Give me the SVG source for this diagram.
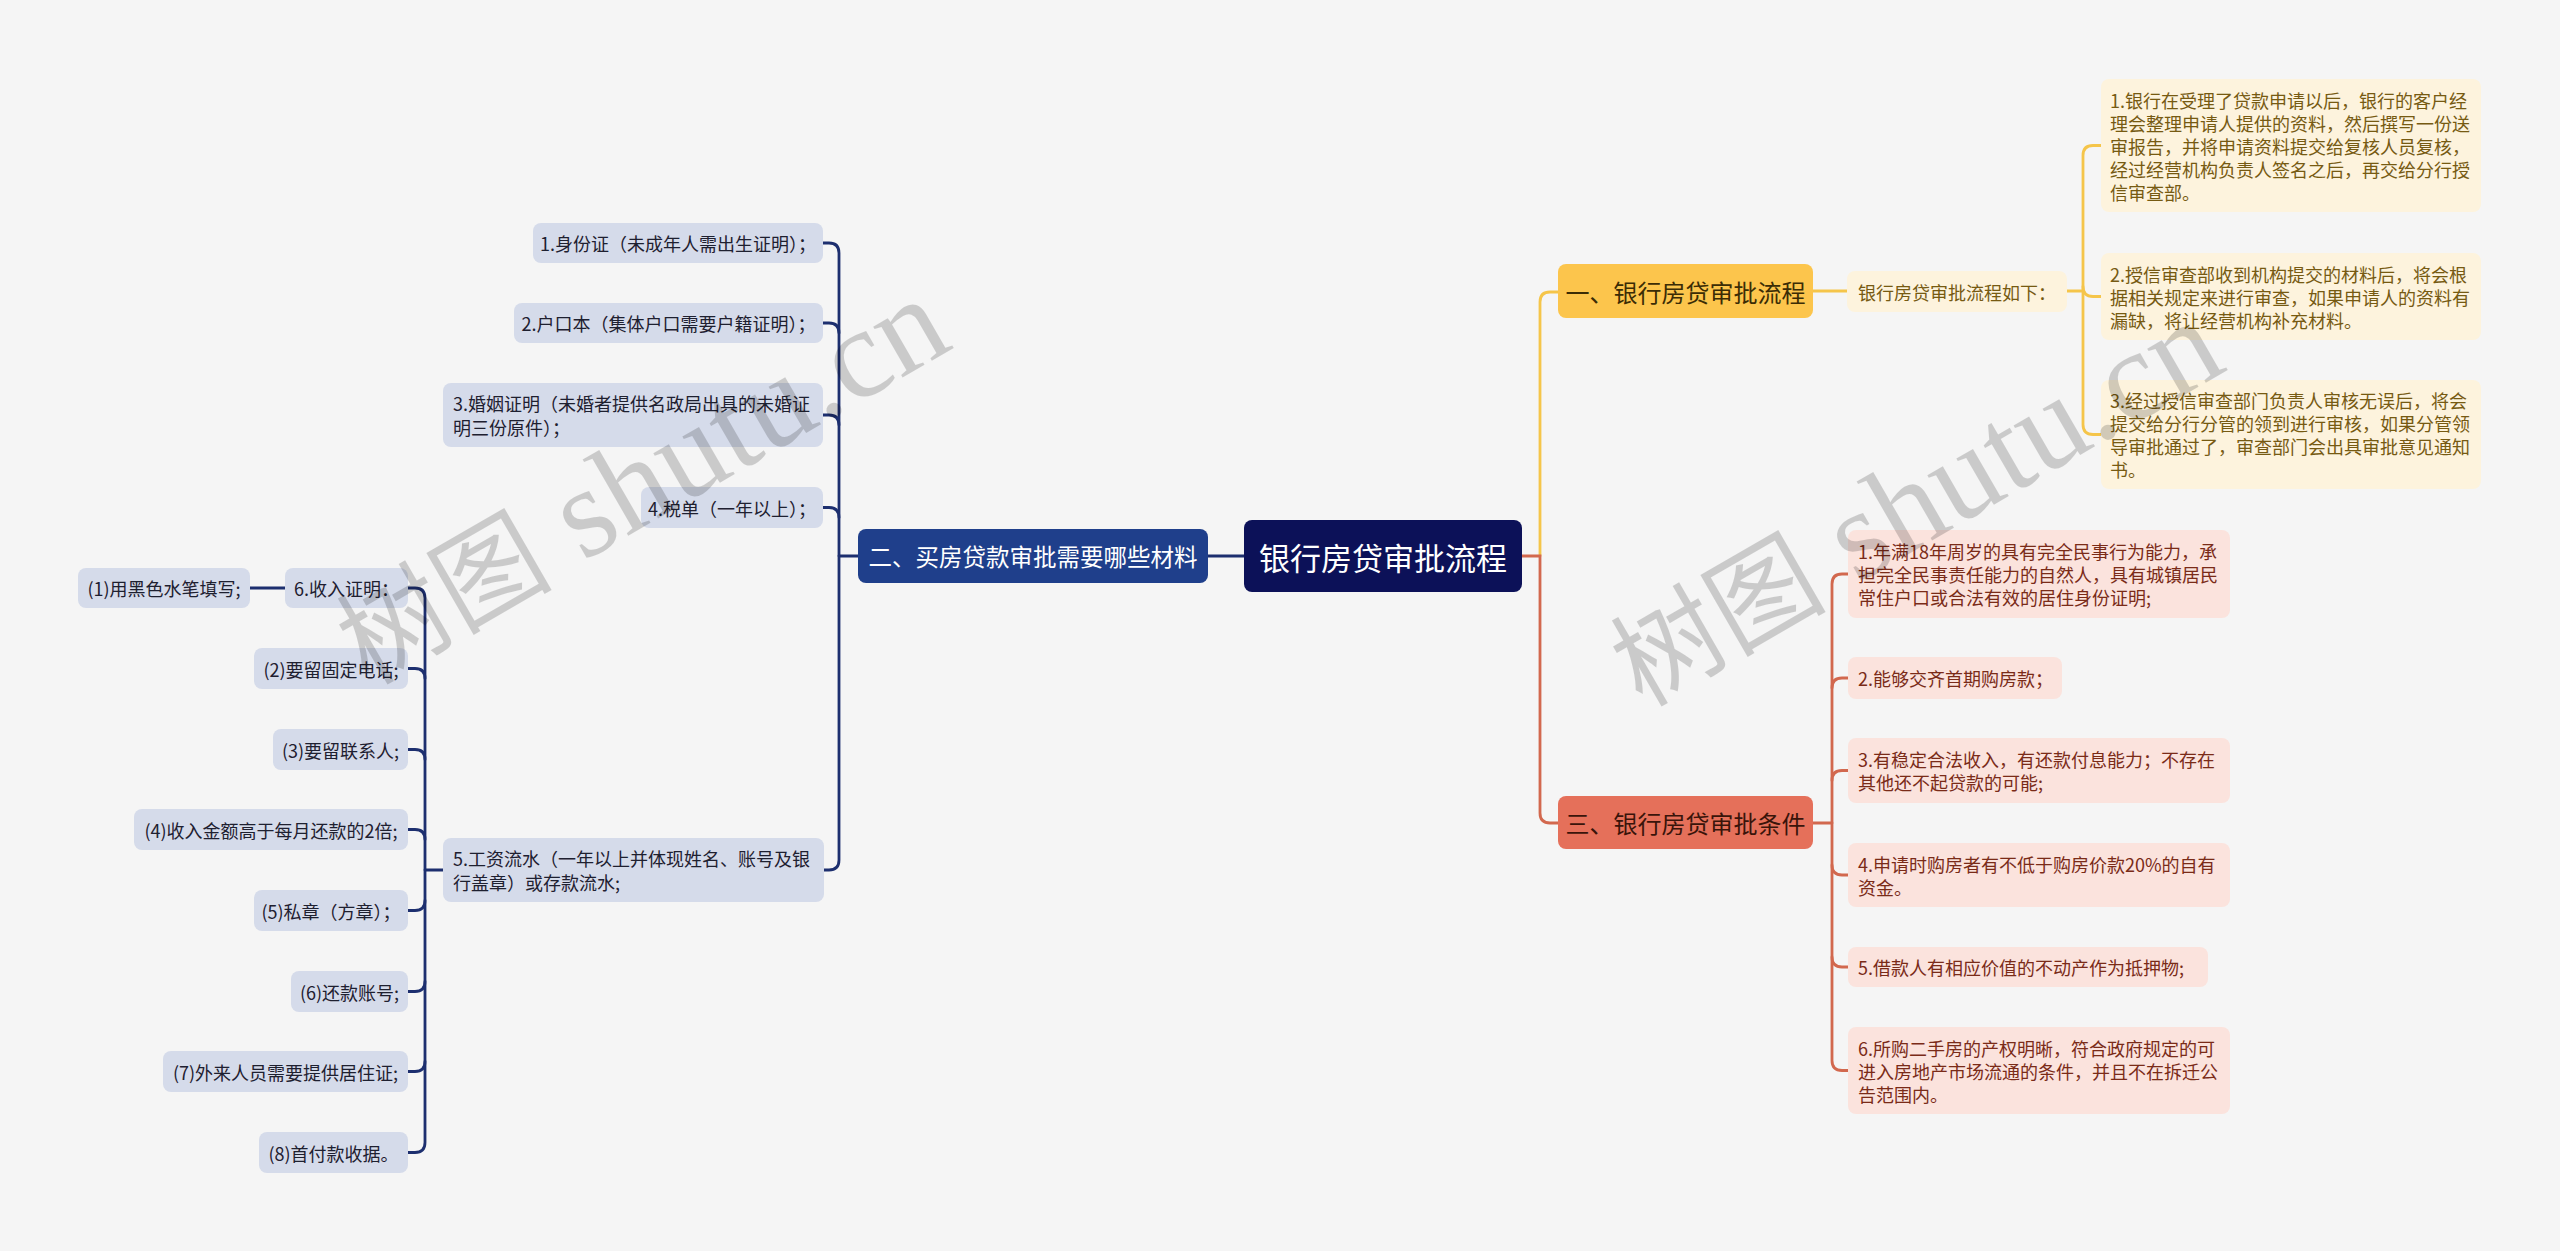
<svg xmlns="http://www.w3.org/2000/svg" width="2560" height="1251" viewBox="0 0 2560 1251">
<style>
.t{font-family:"Noto Sans CJK SC","Noto Sans",sans-serif;dominant-baseline:central}
.c{text-anchor:middle}
.root rect{fill:#0c1158}
.root text{fill:#ffffff;font-size:31px}
.b2 rect{fill:#1f3f8b}
.b2 text{fill:#ffffff;font-size:23.5px}
.lb rect{fill:#d5dbea}
.lb text{fill:#1e2030;font-size:18px}
.yb1 rect{fill:#fcc54c}
.yb1 text{fill:#3b2c05;font-size:24px}
.yb rect{fill:#fdf3dd}
.yb text{fill:#765a12;font-size:18px}
.rb1 rect{fill:#e5705a}
.rb1 text{fill:#3a140a;font-size:24px}
.rb rect{fill:#fbe3dd}
.rb text{fill:#7a2b18;font-size:18px}
.cn path{fill:none;stroke-width:2.8;stroke-linecap:round}
.navy{stroke:#1d2f6f}
.yel{stroke:#f5c54a}
.red{stroke:#d2684e}
.wm{font-family:"Liberation Serif","Noto Sans CJK SC",serif;fill:#000;opacity:0.17}
</style>
<rect width="2560" height="1251" fill="#f5f5f5"/>

<g id="connectors" class="cn">
  <path class="navy" d="M1244,556 H1208"/>
  <path class="navy" d="M858,556 H839"/>
  <path class="navy" d="M823,243 H829 Q839,243 839,253 V860 Q839,870 829,870 H823"/>
  <path class="navy" d="M823,323 H829 Q839,323 839,333"/>
  <path class="navy" d="M823,415 H829 Q839,415 839,425"/>
  <path class="navy" d="M823,507.5 H829 Q839,507.5 839,517.5"/>
  <path class="navy" d="M443,870 H425"/>
  <path class="navy" d="M408,588 H415 Q425,588 425,598 V1142.5 Q425,1152.5 415,1152.5 H408"/>
  <path class="navy" d="M408,668.5 H415 Q425,668.5 425,678.5"/>
  <path class="navy" d="M408,749.5 H415 Q425,749.5 425,759.5"/>
  <path class="navy" d="M408,829.5 H415 Q425,829.5 425,839.5"/>
  <path class="navy" d="M408,910.5 H415 Q425,910.5 425,900.5"/>
  <path class="navy" d="M408,991.5 H415 Q425,991.5 425,981.5"/>
  <path class="navy" d="M408,1071.5 H415 Q425,1071.5 425,1061.5"/>
  <path class="navy" d="M285,588 H250"/>
  <path class="yel" d="M1540,556 V302 Q1540,292 1550,292 H1558"/>
  <path class="yel" d="M1813,291 H1847"/>
  <path class="yel" d="M2067,291 H2083"/>
  <path class="yel" d="M2101,145.5 H2093 Q2083,145.5 2083,155.5 V424.5 Q2083,434.5 2093,434.5 H2101"/>
  <path class="yel" d="M2083,286.5 Q2083,296.5 2093,296.5 H2101"/>
  <path class="red" d="M1522,556 H1540 V813 Q1540,823 1550,823 H1558"/>
  <path class="red" d="M1813,823 H1832"/>
  <path class="red" d="M1848,574 H1842 Q1832,574 1832,584 V1060.5 Q1832,1070.5 1842,1070.5 H1848"/>
  <path class="red" d="M1848,678 H1842 Q1832,678 1832,688"/>
  <path class="red" d="M1848,770.5 H1842 Q1832,770.5 1832,780.5"/>
  <path class="red" d="M1848,875 H1842 Q1832,875 1832,865"/>
  <path class="red" d="M1848,967 H1842 Q1832,967 1832,957"/>
</g>

<g id="root" class="root"><rect x="1244" y="520" width="278" height="72" rx="8"/><text class="t c" x="1383" y="556">银行房贷审批流程</text></g>

<g id="b2" class="b2"><rect x="858" y="529" width="350" height="54" rx="8"/><text class="t c" x="1033" y="556">二、买房贷款审批需要哪些材料</text></g>

<g id="L1" class="lb"><rect x="533" y="223" width="290" height="40" rx="8"/><text class="t c" x="678" y="243">1.身份证（未成年人需出生证明）；</text></g>
<g id="L2" class="lb"><rect x="514" y="303" width="309" height="40" rx="8"/><text class="t c" x="668.5" y="323">2.户口本（集体户口需要户籍证明）；</text></g>
<g id="L3" class="lb"><rect x="443" y="383" width="380" height="64" rx="8"/><text class="t" x="453" y="403">3.婚姻证明（未婚者提供名政局出具的未婚证</text><text class="t" x="453" y="427">明三份原件）；</text></g>
<g id="L4" class="lb"><rect x="641" y="487" width="182" height="41" rx="8"/><text class="t c" x="732" y="507.5">4.税单（一年以上）；</text></g>
<g id="L5" class="lb"><rect x="443" y="838" width="381" height="64" rx="8"/><text class="t" x="453" y="858">5.工资流水（一年以上并体现姓名、账号及银</text><text class="t" x="453" y="882">行盖章）或存款流水;</text></g>

<g id="S6" class="lb"><rect x="285" y="568" width="123" height="40" rx="8"/><text class="t c" x="346.5" y="588">6.收入证明：</text></g>
<g id="S1" class="lb"><rect x="78" y="568" width="172" height="40" rx="8"/><text class="t c" x="164" y="588">(1)用黑色水笔填写;</text></g>
<g id="S2" class="lb"><rect x="254" y="648" width="154" height="41" rx="8"/><text class="t c" x="331" y="668.5">(2)要留固定电话;</text></g>
<g id="S3" class="lb"><rect x="273" y="729" width="135" height="41" rx="8"/><text class="t c" x="340.5" y="749.5">(3)要留联系人;</text></g>
<g id="S4" class="lb"><rect x="134" y="809" width="274" height="41" rx="8"/><text class="t c" x="271" y="829.5">(4)收入金额高于每月还款的2倍;</text></g>
<g id="S5" class="lb"><rect x="254" y="890" width="154" height="41" rx="8"/><text class="t c" x="331" y="910.5">(5)私章（方章）；</text></g>
<g id="S6b" class="lb"><rect x="291" y="971" width="117" height="41" rx="8"/><text class="t c" x="349.5" y="991.5">(6)还款账号;</text></g>
<g id="S7" class="lb"><rect x="163" y="1051" width="245" height="41" rx="8"/><text class="t c" x="285.5" y="1071.5">(7)外来人员需要提供居住证;</text></g>
<g id="S8" class="lb"><rect x="259" y="1132" width="149" height="41" rx="8"/><text class="t c" x="333.5" y="1152.5">(8)首付款收据。</text></g>

<g id="Y1" class="yb1"><rect x="1558" y="264" width="255" height="54" rx="8"/><text class="t c" x="1685.5" y="291">一、银行房贷审批流程</text></g>
<g id="Y2" class="yb"><rect x="1847" y="271" width="220" height="41" rx="8"/><text class="t c" x="1957" y="291.5">银行房贷审批流程如下：</text></g>
<g id="C1" class="yb"><rect x="2101" y="79" width="380" height="133" rx="8"/>
<text class="t" x="2110" y="99.5">1.银行在受理了贷款申请以后，银行的客户经</text>
<text class="t" x="2110" y="122.5">理会整理申请人提供的资料，然后撰写一份送</text>
<text class="t" x="2110" y="145.5">审报告，并将申请资料提交给复核人员复核，</text>
<text class="t" x="2110" y="168.5">经过经营机构负责人签名之后，再交给分行授</text>
<text class="t" x="2110" y="191.5">信审查部。</text></g>
<g id="C2" class="yb"><rect x="2101" y="253" width="380" height="87" rx="8"/>
<text class="t" x="2110" y="273.5">2.授信审查部收到机构提交的材料后，将会根</text>
<text class="t" x="2110" y="296.5">据相关规定来进行审查，如果申请人的资料有</text>
<text class="t" x="2110" y="319.5">漏缺，将让经营机构补充材料。</text></g>
<g id="C3" class="yb"><rect x="2101" y="380" width="380" height="109" rx="8"/>
<text class="t" x="2110" y="400">3.经过授信审查部门负责人审核无误后，将会</text>
<text class="t" x="2110" y="423">提交给分行分管的领到进行审核，如果分管领</text>
<text class="t" x="2110" y="446">导审批通过了，审查部门会出具审批意见通知</text>
<text class="t" x="2110" y="469">书。</text></g>

<g id="R0" class="rb1"><rect x="1558" y="796" width="255" height="53" rx="8"/><text class="t c" x="1685.5" y="822.5">三、银行房贷审批条件</text></g>
<g id="R1" class="rb"><rect x="1848" y="530" width="382" height="88" rx="8"/>
<text class="t" x="1858" y="551">1.年满18年周岁的具有完全民事行为能力，承</text>
<text class="t" x="1858" y="574">担完全民事责任能力的自然人，具有城镇居民</text>
<text class="t" x="1858" y="597">常住户口或合法有效的居住身份证明;</text></g>
<g id="R2" class="rb"><rect x="1848" y="657" width="214" height="42" rx="8"/><text class="t" x="1858" y="678">2.能够交齐首期购房款；</text></g>
<g id="R3" class="rb"><rect x="1848" y="738" width="382" height="65" rx="8"/>
<text class="t" x="1858" y="759">3.有稳定合法收入，有还款付息能力；不存在</text>
<text class="t" x="1858" y="782">其他还不起贷款的可能;</text></g>
<g id="R4" class="rb"><rect x="1848" y="843" width="382" height="64" rx="8"/>
<text class="t" x="1858" y="863.5">4.申请时购房者有不低于购房价款20%的自有</text>
<text class="t" x="1858" y="886.5">资金。</text></g>
<g id="R5" class="rb"><rect x="1848" y="947" width="360" height="40" rx="8"/><text class="t" x="1858" y="967">5.借款人有相应价值的不动产作为抵押物;</text></g>
<g id="R6" class="rb"><rect x="1848" y="1027" width="382" height="87" rx="8"/>
<text class="t" x="1858" y="1048">6.所购二手房的产权明晰，符合政府规定的可</text>
<text class="t" x="1858" y="1071">进入房地产市场流通的条件，并且不在拆迁公</text>
<text class="t" x="1858" y="1094">告范围内。</text></g>

<g id="watermarks">
<text class="wm" transform="translate(368,686) rotate(-30)"><tspan font-size="108">树图</tspan><tspan font-size="128"> shutu.cn</tspan></text>
<text class="wm" transform="translate(1642,708) rotate(-30)"><tspan font-size="108">树图</tspan><tspan font-size="128"> shutu.cn</tspan></text>
</g>
</svg>
